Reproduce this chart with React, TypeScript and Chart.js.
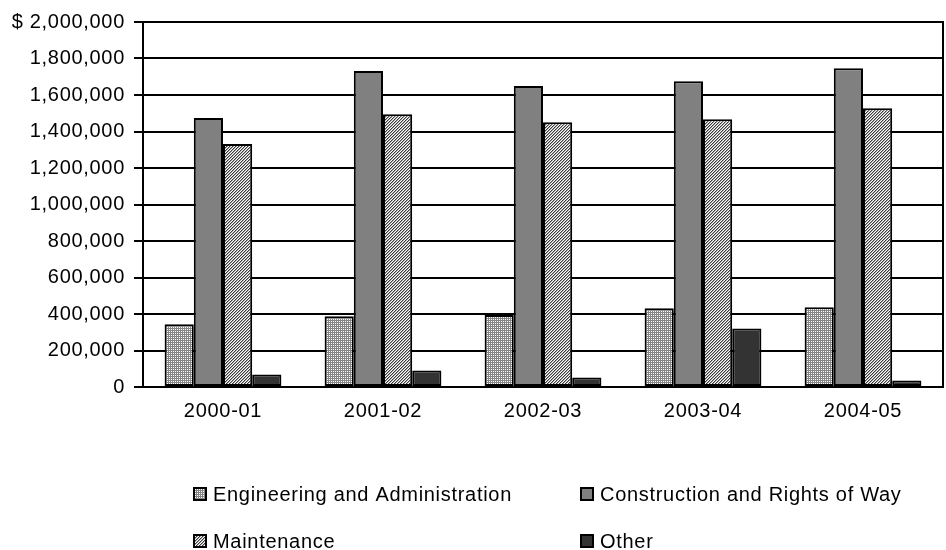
import React, { useEffect, useRef } from "react";
import { Chart, registerables } from "chart.js";

Chart.register(...registerables);

const categories = ["2000-01", "2001-02", "2002-03", "2003-04", "2004-05"];
const seriesNames = [
  "Engineering and Administration",
  "Construction and Rights of Way",
  "Maintenance",
  "Other",
];
const engineering = [344000, 388000, 394000, 431000, 437000];
const construction = [1474000, 1731000, 1649000, 1676000, 1747000];
const maintenance = [1331000, 1494000, 1451000, 1467000, 1527000];
const other = [68000, 90000, 52000, 321000, 35000];
const yMin = 0;
const yMax = 2000000;
const yStep = 200000;

const FONT = "'Liberation Sans', Arial, sans-serif";
const FONT_SIZE = 20;
const LETTER_SPACING = "0.7px";

function makePattern(kind: string): CanvasPattern | string {
  const c = document.createElement("canvas");
  const size = kind === "grid" ? 2 : 3;
  c.width = size;
  c.height = size;
  const g = c.getContext("2d");
  if (!g) return "#aaa";
  g.fillStyle = "#ffffff";
  g.fillRect(0, 0, size, size);
  if (kind === "grid") {
    g.fillStyle = "#858585";
    g.fillRect(0, 0, size, 1);
    g.fillRect(0, 0, 1, size);
  } else {
    for (let x = 0; x < size; x++) {
      for (let y = 0; y < size; y++) {
        const k = (x + y) % 3;
        if (k === 0) {
          g.fillStyle = "#3a3a3a";
          g.fillRect(x, y, 1, 1);
        } else if (k === 1) {
          g.fillStyle = "#a8a8a8";
          g.fillRect(x, y, 1, 1);
        }
      }
    }
  }
  const p = g.createPattern(c, "repeat");
  return p || "#aaa";
}

const textSpacing = {
  id: "textSpacing",
  beforeInit(chart: any) {
    try {
      (chart.ctx as any).letterSpacing = LETTER_SPACING;
    } catch (e) {}
  },
  beforeUpdate(chart: any) {
    try {
      (chart.ctx as any).letterSpacing = LETTER_SPACING;
    } catch (e) {}
  },
  beforeDraw(chart: any) {
    try {
      (chart.ctx as any).letterSpacing = LETTER_SPACING;
    } catch (e) {}
  },
};

const frameAndLegend = {
  id: "frameAndLegend",
  afterDraw(chart: any) {
    const ctx = chart.ctx as CanvasRenderingContext2D;
    const area = chart.chartArea;
    ctx.save();
    ctx.strokeStyle = "#000";
    ctx.lineWidth = 2;
    ctx.beginPath();
    ctx.moveTo(area.right, area.top - 1);
    ctx.lineTo(area.right, area.bottom);
    ctx.stroke();

    const colX = [area.left + 51, area.left + 438];
    const rowY = [area.bottom + 107, area.bottom + 154];
    const box = 12;
    ctx.font = `${FONT_SIZE}px ${FONT}`;
    (ctx as any).letterSpacing = LETTER_SPACING;
    ctx.textBaseline = "middle";
    ctx.textAlign = "left";
    chart.data.datasets.forEach((ds: any, i: number) => {
      const x = colX[i % 2];
      const y = rowY[Math.floor(i / 2)];
      ctx.fillStyle = ds.backgroundColor;
      ctx.fillRect(x, y - box / 2, box, box);
      ctx.strokeStyle = "#000";
      ctx.lineWidth = 2;
      ctx.strokeRect(x, y - box / 2, box, box);
      ctx.fillStyle = "#000";
      ctx.fillText(ds.label, x + box + 7, y + 1);
    });
    ctx.restore();
  },
};

export default function App() {
  const ref = useRef<HTMLCanvasElement | null>(null);

  useEffect(() => {
    if (!ref.current) return;
    const gridPat = makePattern("grid");
    const diagPat = makePattern("diag");
    const fills = [gridPat, "#808080", diagPat, "#333333"];
    const values = [engineering, construction, maintenance, other];

    const chart = new Chart(ref.current, {
      type: "bar",
      data: {
        labels: categories,
        datasets: seriesNames.map((name, i) => ({
          label: name,
          data: values[i],
          backgroundColor: fills[i] as any,
          borderColor: "#000000",
          borderWidth: 2,
          borderSkipped: false,
          categoryPercentage: 0.73,
          barPercentage: 1.0,
        })),
      },
      options: {
        animation: false,
        responsive: true,
        maintainAspectRatio: false,
        events: [],
        layout: { padding: { left: 0, top: 22, right: 3, bottom: 123 } },
        plugins: {
          legend: { display: false },
          tooltip: { enabled: false },
          title: { display: false },
        },
        scales: {
          x: {
            grid: { display: false, drawTicks: false },
            border: { display: true, color: "#000", width: 2 },
            ticks: {
              color: "#000",
              font: { family: FONT, size: FONT_SIZE },
              padding: 12,
              maxRotation: 0,
            },
            afterFit: (scale: any) => {
              scale.height = 40;
            },
          },
          y: {
            min: yMin,
            max: yMax,
            grid: { color: "#000", lineWidth: 2, tickLength: 9, drawTicks: true },
            border: { display: true, color: "#000", width: 2 },
            ticks: {
              stepSize: yStep,
              color: "#000",
              font: { family: FONT, size: FONT_SIZE },
              padding: 9,
              callback: (v: any) => {
                const s = Number(v).toLocaleString("en-US");
                return Number(v) === yMax ? "$ " + s : s;
              },
            },
            afterFit: (scale: any) => {
              scale.width = 143;
            },
          },
        },
      },
      plugins: [textSpacing, frameAndLegend],
    });
    return () => chart.destroy();
  }, []);

  return (
    <div style={{ position: "absolute", left: 0, top: 0, width: 946, height: 550, background: "#fff" }}>
      <canvas ref={ref} />
    </div>
  );
}
